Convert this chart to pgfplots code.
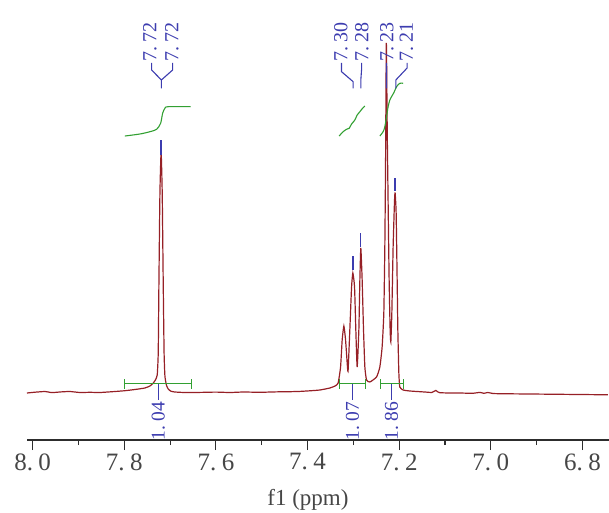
\documentclass[border=0pt]{standalone}
\usepackage{fontspec}
\setmainfont{Liberation Serif}
\usepackage{pgfplots}
\pgfplotsset{compat=1.18}
\definecolor{specred}{RGB}{150,32,38}
\definecolor{lblue}{RGB}{60,60,175}
\definecolor{igreen}{RGB}{50,160,50}
\definecolor{axgray}{RGB}{45,45,45}
\definecolor{tgray}{RGB}{70,70,70}
\newcommand\pn[2]{#1.\kern.22em#2}
\begin{document}
\begin{tikzpicture}
\path[use as bounding box] (-26.7pt,-72pt) rectangle (582.3pt,440pt);
\begin{axis}[anchor=south west, at={(0pt,0pt)}, scale only axis,
  width=582.3pt, height=440pt,
  xmin=6.742, xmax=8.013, x dir=reverse, ymin=-47, ymax=393,
  axis x line*=bottom, axis y line=none, clip=false,
  xtick={6.8,7.0,7.2,7.4,7.6,7.8,8.0},
  xticklabels={\pn{6}{8},\pn{7}{0},\pn{7}{2},\pn{7}{4},\pn{7}{6},\pn{7}{8},\pn{8}{0}},
  minor xtick={6.9,7.1,7.3,7.5,7.7,7.9},
  ytick=\empty,
  tick align=outside, major tick length=10pt, minor tick length=5pt,
  tick style={line width=1.1pt, color=axgray},
  x axis line style={line width=1.1pt, color=axgray},
  xticklabel style={font=\fontsize{25}{25}\selectfont, text=tgray},
  xlabel={f1 (ppm)},
  every axis x label/.style={at={(axis cs:7.399,-112)}, anchor=base, font=\fontsize{23}{23}\selectfont, text=tgray},
]
% spectrum
\addplot[specred, line width=1.2pt, smooth, tension=0.3] coordinates {
(8.0124,0) (7.9950,0.8) (7.9732,1.5) (7.9600,0.5) (7.9513,0.6) (7.9350,1.2) (7.9186,1.5) (7.8968,0.5) (7.8750,0.7) (7.8532,0.5) (7.8204,1.5) (7.7986,2.3) (7.7768,3.5) (7.7550,5) (7.7441,7) (7.7375,9.5) (7.7321,13) (7.7281,18) (7.7259,40) (7.7244,110) (7.7222,200) (7.7196,241) (7.7172,200) (7.7150,110) (7.7131,40) (7.7113,17) (7.7081,8) (7.7041,4) (7.6982,1.8) (7.6895,1) (7.6677,0.5) (7.6350,0.6) (7.6000,0.9) (7.5695,0.5) (7.5400,1.0) (7.5040,0.7) (7.4800,1.0) (7.4604,1.2) (7.4400,1.3) (7.4168,1.6) (7.3950,2.2) (7.3731,3) (7.3513,5) (7.3400,7) (7.3332,10) (7.3279,26) (7.3244,53) (7.3207,67) (7.3170,53) (7.3127,25) (7.3114,23) (7.3077,63) (7.3039,106) (7.3011,120) (7.2974,106) (7.2946,63) (7.2917,26) (7.2880,63) (7.2858,113) (7.2837,145) (7.2808,113) (7.2778,63) (7.2749,26) (7.2712,13) (7.2640,11) (7.2494,16) (7.2422,26) (7.2372,46) (7.2335,80) (7.2313,146) (7.2297,230) (7.2280,350) (7.2260,260) (7.2241,190) (7.2219,113) (7.2197,63) (7.2182,51) (7.2160,80) (7.2132,146) (7.2101,193) (7.2088,200) (7.2066,180) (7.2044,113) (7.2029,63) (7.2007,20) (7.1986,6) (7.1913,3) (7.1767,2) (7.1440,1) (7.1287,0.5) (7.1245,1.5) (7.1200,2.6) (7.1160,1.2) (7.1113,0.3) (7.0900,0) (7.0676,0) (7.0400,-0.3) (7.0240,0.6) (7.0150,-0.3) (7.0065,0.5) (6.9950,-0.5) (6.9804,-0.7) (6.9149,-1) (6.8494,-1.3) (6.7840,-1.6) (6.7447,-1.8)
};
% integral curves
\addplot[igreen, line width=1.1pt, smooth] coordinates {
(7.7986,257) (7.7659,259) (7.7441,261.3) (7.7294,263.7) (7.7207,269.7) (7.7163,279.7) (7.7113,284.7) (7.7041,286.3) (7.6552,286.3)
};
\addplot[igreen, line width=1.1pt, smooth] coordinates {
(7.3310,257) (7.3223,261.3) (7.3149,263.7) (7.3092,264.7) (7.3039,269) (7.2967,273) (7.2917,278) (7.2858,281.3) (7.2799,284.7) (7.2749,287)
};
\addplot[igreen, line width=1.1pt, smooth] coordinates {
(7.2422,257) (7.2350,261.3) (7.2313,266.3) (7.2276,276.3) (7.2241,286.3) (7.2204,293) (7.2167,296.3) (7.2116,300.3) (7.2057,306.3) (7.1986,309.7) (7.1913,309.7)
};
% integration brackets
\draw[igreen, line width=1.1pt] (axis cs:7.7986,9.5) -- (axis cs:7.6531,9.5)
  (axis cs:7.7986,4.5) -- (axis cs:7.7986,14.5) (axis cs:7.6531,4.5) -- (axis cs:7.6531,14.5);
\draw[igreen, line width=1.1pt] (axis cs:7.3310,9.5) -- (axis cs:7.2734,9.5)
  (axis cs:7.3310,4.5) -- (axis cs:7.3310,14.5) (axis cs:7.2734,4.5) -- (axis cs:7.2734,14.5);
\draw[igreen, line width=1.1pt] (axis cs:7.2407,9.5) -- (axis cs:7.1898,9.5)
  (axis cs:7.2407,4.5) -- (axis cs:7.2407,14.5) (axis cs:7.1898,4.5) -- (axis cs:7.1898,14.5);
\draw[lblue, line width=1.1pt] (axis cs:7.7259,9.5) -- (axis cs:7.7259,-7)
  (axis cs:7.3018,9.5) -- (axis cs:7.3018,-7) (axis cs:7.2167,9.5) -- (axis cs:7.2167,-7);
\begin{scope}[every node/.style={rotate=90, anchor=east, inner sep=0pt, text=lblue, font=\fontsize{19.5}{19.5}\selectfont}]
\node at (axis cs:7.7259,-9) {\pn{1}{04}};
\node at (axis cs:7.3018,-9) {\pn{1}{07}};
\node at (axis cs:7.2167,-9) {\pn{1}{86}};
\end{scope}
% peak marks
\draw[lblue, line width=1.3pt] (axis cs:7.7196,238) -- (axis cs:7.7196,253)
  (axis cs:7.3011,123) -- (axis cs:7.3011,137)
  (axis cs:7.2837,146) -- (axis cs:7.2837,160)
  (axis cs:7.2088,202) -- (axis cs:7.2088,215);
% peak label connectors
\draw[lblue, line width=1.1pt] (axis cs:7.7403,330) -- (axis cs:7.7403,323) -- (axis cs:7.7190,313) -- (axis cs:7.7190,304.7)
  (axis cs:7.6945,330) -- (axis cs:7.6945,323) -- (axis cs:7.7190,313);
\draw[lblue, line width=1.1pt] (axis cs:7.3258,330) -- (axis cs:7.3258,321.3) -- (axis cs:7.3004,311.3) -- (axis cs:7.3004,304.7)
  (axis cs:7.2821,330) -- (axis cs:7.2821,323) -- (axis cs:7.2837,313) -- (axis cs:7.2837,304.7)
  (axis cs:7.2276,330) -- (axis cs:7.2276,304.7)
  (axis cs:7.1826,330) -- (axis cs:7.1826,325) -- (axis cs:7.2073,313) -- (axis cs:7.2073,304.7);
\begin{scope}[every node/.style={rotate=90, anchor=west, inner sep=0pt, text=lblue, font=\fontsize{20}{20}\selectfont}]
\node at (axis cs:7.7441,331) {\pn{7}{72}};
\node at (axis cs:7.6960,331) {\pn{7}{72}};
\node at (axis cs:7.3273,331) {\pn{7}{30}};
\node at (axis cs:7.2815,331) {\pn{7}{28}};
\node at (axis cs:7.2269,331) {\pn{7}{23}};
\node at (axis cs:7.1844,331) {\pn{7}{21}};
\end{scope}
\end{axis}
\end{tikzpicture}
\end{document}
